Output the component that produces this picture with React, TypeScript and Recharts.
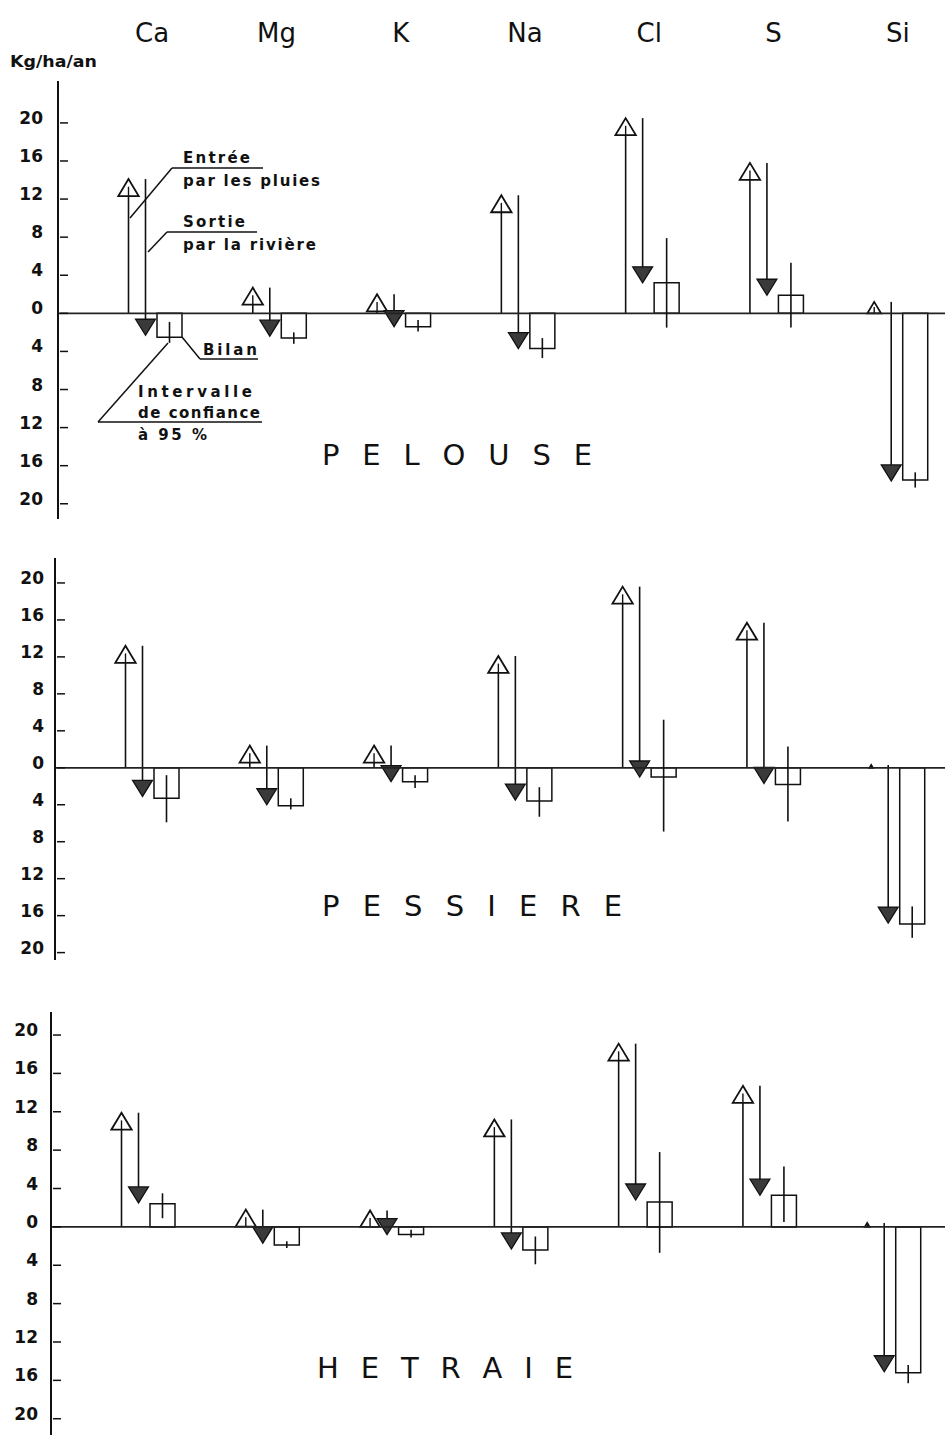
import React from 'react';
import { ComposedChart, Bar, XAxis, YAxis, ReferenceLine, ErrorBar } from 'recharts';

const ELEMENTS = ['Ca', 'Mg', 'K', 'Na', 'Cl', 'S', 'Si'];
const Y_TICKS = [-20, -16, -12, -8, -4, 0, 4, 8, 12, 16, 20];

// PELOUSE (kg/ha/an)
const PELOUSE_ENTREE = [14.1, 2.7, 2.0, 12.4, 20.5, 15.8, 1.2];
const PELOUSE_SORTIE = [16.4, 5.1, 3.4, 16.1, 17.3, 13.9, 18.8];
const PELOUSE_BILAN = [-2.5, -2.6, -1.4, -3.7, 3.2, 1.9, -17.5];
const PELOUSE_IC_BAS = [-3.1, -3.2, -1.9, -4.7, -1.5, -1.5, -18.3];
const PELOUSE_IC_HAUT = [-0.9, -2.0, -0.7, -2.6, 7.9, 5.3, -16.7];

// PESSIERE
const PESSIERE_ENTREE = [13.2, 2.4, 2.4, 12.1, 19.6, 15.7, 0.3];
const PESSIERE_SORTIE = [16.3, 6.4, 3.9, 15.6, 20.6, 17.4, 17.1];
const PESSIERE_BILAN = [-3.3, -4.1, -1.5, -3.6, -1.0, -1.8, -16.9];
const PESSIERE_IC_BAS = [-5.9, -4.5, -2.2, -5.3, -6.9, -5.8, -18.4];
const PESSIERE_IC_HAUT = [-0.8, -3.3, -0.8, -2.1, 5.2, 2.3, -15.0];

// HETRAIE
const HETRAIE_ENTREE = [11.9, 1.8, 1.7, 11.2, 19.1, 14.7, 0.4];
const HETRAIE_SORTIE = [9.4, 3.5, 2.5, 13.5, 16.3, 11.4, 15.5];
const HETRAIE_BILAN = [2.4, -1.9, -0.8, -2.4, 2.6, 3.3, -15.2];
const HETRAIE_IC_BAS = [0.9, -2.2, -1.1, -3.9, -2.7, 0.5, -16.3];
const HETRAIE_IC_HAUT = [3.5, -1.5, -0.3, -1.0, 7.8, 6.3, -14.4];

function buildRows(entree: number[], sortie: number[], bilan: number[], bas: number[], haut: number[]) {
  return ELEMENTS.map((el, i) => ({
    el,
    entree: [0, entree[i]],
    sortie: [entree[i] - sortie[i], entree[i]],
    bilan: bilan[i],
    ic: [bilan[i] - bas[i], haut[i] - bilan[i]],
  }));
}

const INK = '#111';

const InputArrow = (props: any) => {
  const { x, y, width, height } = props;
  if (x == null || y == null) return null;
  const cx = x + width / 2;
  const top = Math.min(y, y + height);
  const bottom = Math.max(y, y + height);
  const h = Math.min(17, bottom - top);
  const hw = h * 0.6;
  return (
    <g>
      <line x1={cx} x2={cx} y1={bottom} y2={top + h * 0.4} stroke={INK} strokeWidth={1.6} />
      <path d={`M${cx},${top} L${cx - hw},${top + h} L${cx + hw},${top + h} Z`} fill="#fff" stroke={INK} strokeWidth={1.8} />
      <line x1={cx} x2={cx} y1={top + h} y2={top + h * 0.45} stroke={INK} strokeWidth={1.4} />
    </g>
  );
};

const OutputArrow = (props: any) => {
  const { x, y, width, height } = props;
  if (x == null || y == null) return null;
  const cx = x + width / 2;
  const top = Math.min(y, y + height);
  const bottom = Math.max(y, y + height);
  const h = Math.min(16, bottom - top);
  const hw = h * 0.62;
  return (
    <g>
      <line x1={cx} x2={cx} y1={top} y2={bottom - h * 0.5} stroke={INK} strokeWidth={1.6} />
      <path d={`M${cx},${bottom} L${cx - hw},${bottom - h} L${cx + hw},${bottom - h} Z`} fill="#3a3a3a" stroke={INK} strokeWidth={1.3} />
    </g>
  );
};

const CatTick = (p: any) => (
  <text x={p.x} y={p.y - 39} textAnchor="middle" fontFamily="DejaVu Sans" fontSize={26} fill={INK}>
    {p.payload.value}
  </text>
);

const YTick = (p: any) => (
  <g>
    <text x={p.x - p.gap} y={p.y + 1} textAnchor="end" fontFamily="DejaVu Sans" fontWeight="bold" fontSize={17} fill={INK}>
      {Math.abs(p.payload.value)}
    </text>
    <line x1={p.x + 2} x2={p.x + 10} y1={p.y} y2={p.y} stroke={INK} strokeWidth={1.5} />
  </g>
);

type Cfg = { top: number; height: number; width: number; yw: number; domain: [number, number]; gap: number; labels: boolean };

function Panel({ rows, cfg }: { rows: any[]; cfg: Cfg }) {
  return (
    <div style={{ position: 'absolute', left: 0, top: cfg.top }}>
      <ComposedChart
        width={cfg.width}
        height={cfg.height}
        data={rows}
        margin={{ top: 0, right: 0, bottom: 0, left: 0 }}
        barGap={0}
        barCategoryGap={0}
      >
        <XAxis
          dataKey="el"
          type="category"
          orientation="top"
          hide={!cfg.labels}
          height={cfg.labels ? 81 : 0}
          axisLine={false}
          tickLine={false}
          tickSize={0}
          tickMargin={0}
          interval={0}
          padding={{ left: 32, right: 0 }}
          tick={<CatTick />}
        />
        <YAxis
          type="number"
          width={cfg.yw}
          domain={cfg.domain}
          ticks={Y_TICKS}
          allowDataOverflow
          interval={0}
          axisLine={{ stroke: INK, strokeWidth: 2 }}
          tickLine={false}
          tickSize={0}
          tickMargin={0}
          tick={(p: any) => <YTick {...p} gap={cfg.gap} />}
        />
        <ReferenceLine y={0} stroke="#222" strokeWidth={1.8} />
        <Bar dataKey="entree" barSize={11} shape={InputArrow} isAnimationActive={false} />
        <Bar dataKey="sortie" barSize={23} shape={OutputArrow} isAnimationActive={false} />
        <Bar dataKey="bilan" barSize={25} fill="none" stroke={INK} strokeWidth={1.5} isAnimationActive={false}>
          <ErrorBar dataKey="ic" width={0} stroke={INK} strokeWidth={1.6} direction="y" />
        </Bar>
      </ComposedChart>
    </div>
  );
}

const P1: Cfg = { top: 0, height: 519, width: 960, yw: 58, domain: [-21.6, 24.4], gap: 15, labels: true };
const P2: Cfg = { top: 558, height: 402, width: 957, yw: 55, domain: [-20.8, 22.7], gap: 11, labels: false };
const P3: Cfg = { top: 1012, height: 424, width: 953, yw: 51, domain: [-21.8, 22.4], gap: 13, labels: false };

const annot = { fontFamily: 'DejaVu Sans', fontWeight: 'bold' as const, fontSize: 15, fill: INK };
const title = { fontFamily: 'DejaVu Sans', fontSize: 29, fill: INK };

export default function App() {
  const pelouse = buildRows(PELOUSE_ENTREE, PELOUSE_SORTIE, PELOUSE_BILAN, PELOUSE_IC_BAS, PELOUSE_IC_HAUT);
  const pessiere = buildRows(PESSIERE_ENTREE, PESSIERE_SORTIE, PESSIERE_BILAN, PESSIERE_IC_BAS, PESSIERE_IC_HAUT);
  const hetraie = buildRows(HETRAIE_ENTREE, HETRAIE_SORTIE, HETRAIE_BILAN, HETRAIE_IC_BAS, HETRAIE_IC_HAUT);
  return (
    <div style={{ position: 'relative', width: 945, height: 1435, overflow: 'hidden', background: '#fff' }}>
      <style>{'body{margin:0;background:#fff}'}</style>
      <Panel rows={pelouse} cfg={P1} />
      <Panel rows={pessiere} cfg={P2} />
      <Panel rows={hetraie} cfg={P3} />
      <svg width={945} height={1435} style={{ position: 'absolute', left: 0, top: 0, pointerEvents: 'none' }}>
        <text x={10} y={67} fontFamily="DejaVu Sans" fontWeight="bold" fontSize={15} textLength={87} lengthAdjust="spacingAndGlyphs" fill={INK}>Kg/ha/an</text>

        <text x={183} y={163} {...annot} textLength={67} lengthAdjust="spacing">Entrée</text>
        <text x={183} y={186} {...annot} textLength={137} lengthAdjust="spacing">par les pluies</text>
        <line x1={172} y1={168} x2={263} y2={168} stroke={INK} strokeWidth={1.5} />
        <line x1={172} y1={168} x2={130} y2={218} stroke={INK} strokeWidth={1.5} />

        <text x={183} y={227} {...annot} textLength={62} lengthAdjust="spacing">Sortie</text>
        <text x={183} y={250} {...annot} textLength={133} lengthAdjust="spacing">par la rivière</text>
        <line x1={167} y1={232} x2={257} y2={232} stroke={INK} strokeWidth={1.5} />
        <line x1={167} y1={232} x2={148} y2={252} stroke={INK} strokeWidth={1.5} />

        <text x={203} y={355} {...annot} textLength={54} lengthAdjust="spacing">Bilan</text>
        <line x1={200} y1={359} x2={258} y2={359} stroke={INK} strokeWidth={1.5} />
        <line x1={200} y1={359} x2={182} y2={337} stroke={INK} strokeWidth={1.5} />

        <text x={138} y={397} {...annot} textLength={114} lengthAdjust="spacing">Intervalle</text>
        <text x={138} y={418} {...annot} textLength={122} lengthAdjust="spacing">de confiance</text>
        <text x={138} y={440} {...annot} textLength={69} lengthAdjust="spacing">à 95 %</text>
        <line x1={98} y1={422} x2={262} y2={422} stroke={INK} strokeWidth={1.5} />
        <line x1={98} y1={422} x2={168} y2={343} stroke={INK} strokeWidth={1.5} />

        <text x={322} y={465} {...title} textLength={270} lengthAdjust="spacing">P E L O U S E</text>
        <text x={322} y={916} {...title} textLength={300} lengthAdjust="spacing">P E S S I E R E</text>
        <text x={317} y={1378} {...title} textLength={256} lengthAdjust="spacing">H E T R A I E</text>
      </svg>
    </div>
  );
}
